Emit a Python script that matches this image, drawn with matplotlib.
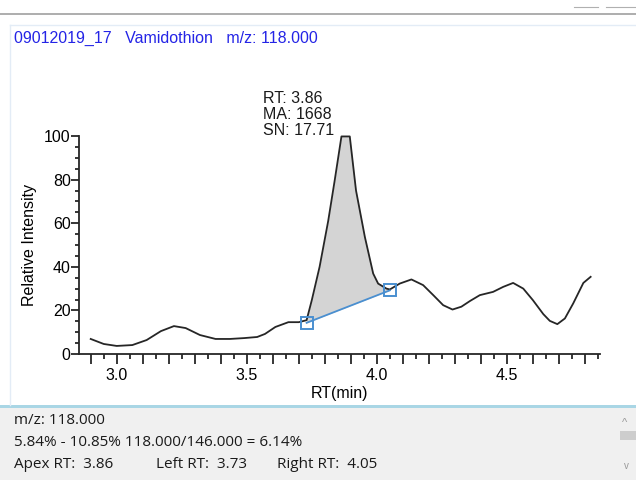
import numpy as np
import matplotlib
matplotlib.use("Agg")
import matplotlib.pyplot as plt
from matplotlib.patches import Rectangle
from matplotlib.lines import Line2D
from matplotlib.ticker import MultipleLocator, FuncFormatter

plt.rcParams['font.family'] = ['Liberation Sans', 'DejaVu Sans']

# chromatogram trace
rt = [2.90, 2.95, 3.00, 3.06, 3.115, 3.17, 3.22, 3.265, 3.32, 3.38, 3.435,
      3.49, 3.54, 3.57, 3.61, 3.66, 3.70, 3.73, 3.75, 3.78, 3.813, 3.838,
      3.864, 3.896, 3.92, 3.954, 3.986, 4.005, 4.037, 4.05, 4.088, 4.133,
      4.178, 4.217, 4.255, 4.291, 4.325, 4.358, 4.396, 4.447, 4.486, 4.524,
      4.563, 4.60, 4.64, 4.665, 4.694, 4.723, 4.755, 4.794, 4.822]
intensity = [6.9, 4.6, 3.7, 4.1, 6.4, 10.5, 12.8, 11.9, 8.7, 6.9, 6.9,
             7.3, 7.8, 9.2, 12.4, 14.6, 14.6, 15.5, 24.7, 40.0, 61.0, 79.6,
             99.8, 99.8, 75.0, 53.7, 36.9, 32.3, 30.0, 29.6, 32.3, 34.2,
             31.6, 27.0, 22.4, 20.4, 21.7, 24.3, 27.0, 28.5, 30.8, 32.6,
             30.0, 24.7, 18.3, 15.2, 13.7, 16.3, 23.2, 32.6, 35.4]

# integration baseline (peak start / end markers)
base_rt = [3.73, 4.05]
base_int = [14.3, 29.2]

title = "09012019_17   Vamidothion   m/z: 118.000"
peak_label = "RT: 3.86\nMA: 1668\nSN: 17.71"
info_lines = ["m/z: 118.000",
              "5.84% - 10.85% 118.000/146.000 = 6.14%"]
rt_fields = ["Apex RT:  3.86", "Left RT:  3.73", "Right RT:  4.05"]
rt_field_x = [14, 156, 277]

W, H = 636, 480
fig = plt.figure(figsize=(W / 100, H / 100), dpi=100)
fig.patch.set_facecolor("white")

# window chrome
fig.add_artist(Line2D([0, 1], [1 - 14 / H, 1 - 14 / H], color="#a0a0a0", lw=1.2))
fig.add_artist(Line2D([574 / W, 598 / W], [1 - 7 / H, 1 - 7 / H], color="#b0b0b0", lw=0.8))
fig.add_artist(Line2D([606 / W, 636 / W], [1 - 7 / H, 1 - 7 / H], color="#b0b0b0", lw=0.8))
fig.add_artist(Line2D([10 / W, 10 / W], [1 - 405 / H, 1 - 25 / H], color="#e3ecf6", lw=1))
fig.add_artist(Line2D([10 / W, 1], [1 - 25 / H, 1 - 25 / H], color="#e3ecf6", lw=1))

# bottom info panel
fig.add_artist(Rectangle((0, 0), 1, 72 / H, transform=fig.transFigure,
                         facecolor="#f0f0f0", edgecolor="none"))
fig.add_artist(Rectangle((0, 72 / H), 1, 3 / H, transform=fig.transFigure,
                         facecolor="#a9d6e5", edgecolor="none"))
fig.add_artist(Rectangle((620 / W, 40 / H), 16 / W, 9 / H, transform=fig.transFigure,
                         facecolor="#cdcdcd", edgecolor="none"))
fig.text(625 / W, 1 - 423 / H, "^", fontsize=8, color="#9a9a9a", ha="center", va="center")
fig.text(626 / W, 1 - 466 / H, "v", fontsize=7, color="#9a9a9a", ha="center", va="center")
panel_font = dict(fontsize=11, family=["Open Sans", "DejaVu Sans"], color="#1a1a1a", va="center")
for i, line in enumerate(info_lines):
    fig.text(14 / W, 1 - (421 + 21.5 * i) / H, line, **panel_font)
for x, field in zip(rt_field_x, rt_fields):
    fig.text(x / W, 1 - 464 / H, field, **panel_font)

fig.text(14 / W, 1 - 38 / H, title, fontsize=11.5, color="#2424e6", va="center")

ax = fig.add_axes([79 / W, 1 - 354 / H, (600 - 79) / W, (354 - 136) / H])
ax.set_xlim(2.855, 4.858)
ax.set_ylim(0, 100)

rt_arr = np.array(rt)
int_arr = np.array(intensity)
inside = (rt_arr >= base_rt[0]) & (rt_arr <= base_rt[1])
ax.fill_between(rt_arr[inside], int_arr[inside],
                np.interp(rt_arr[inside], base_rt, base_int),
                color="#d4d4d4", lw=0)
ax.plot(rt, intensity, color="#262626", lw=1.3, clip_on=False)
ax.plot(base_rt, base_int, color="#4a8fd0", lw=1.3)
ax.plot(base_rt, base_int, ls="none", marker="s", ms=8.5, mfc="none",
        mec="#4a8fd0", mew=1.4)

ax.text(3.562, 99, peak_label, fontsize=11.5, color="#1a1a1a",
        ha="left", va="bottom", linespacing=1.1)

for s in ["top", "right"]:
    ax.spines[s].set_visible(False)
for s in ["left", "bottom"]:
    ax.spines[s].set_linewidth(1.3)
    ax.spines[s].set_color("#262626")

ax.xaxis.set_major_locator(MultipleLocator(0.1))
ax.xaxis.set_minor_locator(MultipleLocator(0.05))
ax.xaxis.set_major_formatter(FuncFormatter(
    lambda v, p: f"{v:.1f}" if abs(v * 2 - round(v * 2)) < 1e-6 else ""))
ax.yaxis.set_major_locator(MultipleLocator(20))
ax.yaxis.set_minor_locator(MultipleLocator(5))
ax.tick_params(axis="x", which="major", length=7, width=1.3, color="#262626",
               labelsize=11.5, pad=3)
ax.tick_params(axis="x", which="minor", length=3.5, width=1.3, color="#262626")
ax.tick_params(axis="y", which="major", length=6, width=1.3, color="#262626",
               labelsize=11.5, pad=0)
ax.tick_params(axis="y", which="minor", length=3, width=1.3, color="#262626")

ax.set_xlabel("RT(min)", fontsize=11.5, labelpad=2)
ax.set_ylabel("Relative Intensity", fontsize=11.5, labelpad=5)

fig.savefig("out.png", dpi=100)
